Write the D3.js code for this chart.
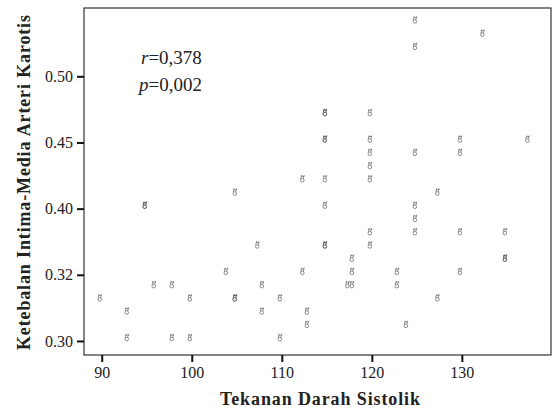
<!DOCTYPE html>
<html>
<head>
<meta charset="utf-8">
<script src="https://cdn.jsdelivr.net/npm/d3@7"></script>
<style>
  body { margin: 0; background: #fff; }
  text { font-family: "Liberation Serif", "DejaVu Serif", serif; fill: #222; }
</style>
</head>
<body>
<svg id="chart" width="553" height="412"></svg>
<script>
// Tekanan darah sistolik (x) vs ketebalan intima-media (y)
var sistolik = [90, 93, 93, 95, 95, 96, 98, 98, 100, 100,
  104, 105, 105, 105, 107.5, 108, 108, 110, 110, 112.5, 112.5, 113, 113,
  115, 115, 115, 115, 115, 115, 115, 115,
  117.5, 118, 118, 118,
  120, 120, 120, 120, 120, 120, 120,
  123, 123, 124,
  125, 125, 125, 125, 125, 125,
  127.5, 127.5, 130, 130, 130, 130, 132.5, 135, 135, 135, 137.5];
var imt = [0.33, 0.32, 0.30, 0.40, 0.40, 0.34, 0.34, 0.30, 0.33, 0.30,
  0.35, 0.41, 0.33, 0.33, 0.37, 0.34, 0.32, 0.33, 0.30, 0.42, 0.35, 0.32, 0.31,
  0.47, 0.47, 0.45, 0.45, 0.42, 0.40, 0.37, 0.37,
  0.34, 0.34, 0.35, 0.36,
  0.47, 0.45, 0.44, 0.43, 0.42, 0.38, 0.37,
  0.35, 0.34, 0.31,
  0.54, 0.52, 0.44, 0.40, 0.39, 0.38,
  0.41, 0.33, 0.45, 0.44, 0.38, 0.35, 0.53, 0.38, 0.36, 0.36, 0.45];

var xTicks = [90, 100, 110, 120, 130];
var yTicks = [0.30, 0.35, 0.40, 0.45, 0.50];
var yTickLabels = ["0.30", "0.32", "0.40", "0.45", "0.50"];

var svg = d3.select("#chart");
var plotLeft = 84, plotRight = 551, plotTop = 8, plotBottom = 355;

var x = d3.scaleLinear().domain([88.03, 139.9]).range([plotLeft, plotRight]);
var y = d3.scaleLinear().domain([0.2894, 0.5516]).range([plotBottom, plotTop]);

// frame
svg.append("rect")
  .attr("x", plotLeft).attr("y", plotTop)
  .attr("width", plotRight - plotLeft).attr("height", plotBottom - plotTop)
  .attr("fill", "none").attr("stroke", "#333").attr("stroke-width", 1.2);

// axes
var xAxis = svg.append("g")
  .attr("transform", "translate(0," + plotBottom + ")")
  .call(d3.axisBottom(x).tickValues(xTicks).tickSize(7).tickPadding(5));
var yAxis = svg.append("g")
  .attr("transform", "translate(" + plotLeft + ",0)")
  .call(d3.axisLeft(y).tickValues(yTicks).tickSize(7).tickPadding(4)
    .tickFormat(function(d, i) { return yTickLabels[i]; }));

[xAxis, yAxis].forEach(function(g) {
  g.select(".domain").remove();
  g.selectAll(".tick line").attr("stroke", "#111").attr("stroke-width", 2);
  g.selectAll(".tick text")
    .attr("font-family", "Liberation Serif, serif")
    .attr("font-size", 16).attr("fill", "#3a3a3a");
});

// marker glyph, drawn around the data point
var glyph = "M-1.8,1.6a1.8,1.8 0 1,0 3.6,0a1.8,1.8 0 1,0 -3.6,0" +
  "M-1.6,0L-0.6,-3.6M0.9,0L2,-3.6M-1.2,-2.4L1.8,-2.4";

svg.append("g").selectAll("path")
  .data(sistolik.map(function(d, i) { return [d, imt[i]]; }))
  .enter().append("path")
  .attr("d", glyph)
  .attr("transform", function(d) {
    return "translate(" + (x(d[0]) - 2) + "," + (y(d[1]) - 3.5) + ")";
  })
  .attr("fill", "none")
  .attr("stroke", "#555")
  .attr("stroke-opacity", 0.65)
  .attr("stroke-width", 1);

// correlation text
var note = svg.append("g").attr("font-size", 19).attr("fill", "#333");
var t1 = note.append("text").attr("x", 141).attr("y", 64);
t1.append("tspan").attr("font-style", "italic").text("r");
t1.append("tspan").text("=0,378");
var t2 = note.append("text").attr("x", 139).attr("y", 91);
t2.append("tspan").attr("font-style", "italic").text("p");
t2.append("tspan").text("=0,002");

// axis titles
svg.append("text")
  .attr("x", 220).attr("y", 405)
  .attr("textLength", 200).attr("lengthAdjust", "spacing")
  .attr("font-weight", "bold").attr("font-size", 18)
  .text("Tekanan Darah Sistolik");

svg.append("text")
  .attr("transform", "translate(30,350) rotate(-90)")
  .attr("textLength", 335).attr("lengthAdjust", "spacing")
  .attr("font-weight", "bold").attr("font-size", 18)
  .text("Ketebalan Intima-Media Arteri Karotis");
</script>
</body>
</html>
